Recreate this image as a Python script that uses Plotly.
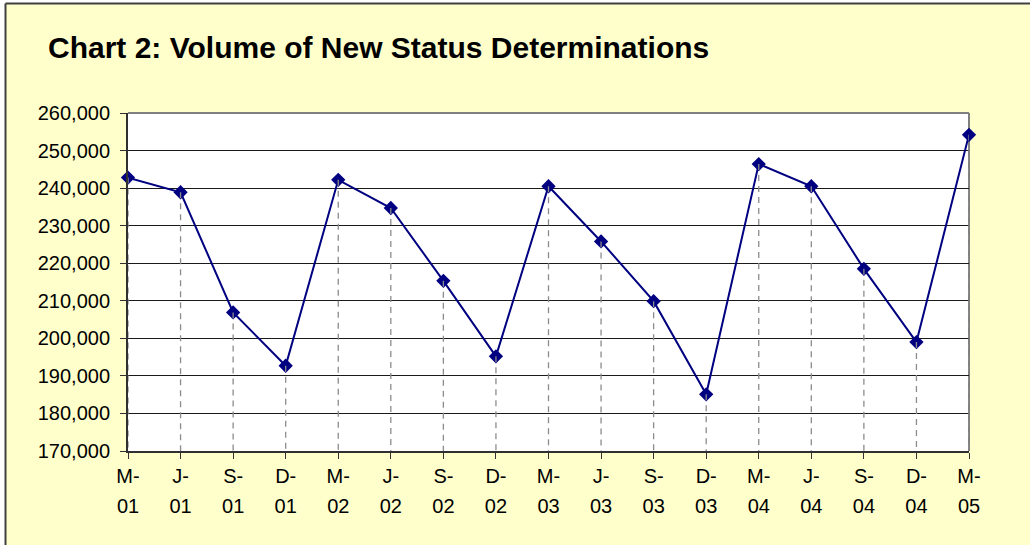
import plotly.graph_objects as go

months = ["M", "J", "S", "D"] * 4 + ["M"]
years = ["01"] * 4 + ["02"] * 4 + ["03"] * 4 + ["04"] * 4 + ["05"]
month_labels = [f"{m}-" for m in months]
volumes = [242800, 238900, 206900, 192700, 242200, 234700, 215300, 195200,
           240500, 225800, 209900, 185100, 246400, 240500, 218500, 199000, 254200]
y_min, y_max, y_step = 170000, 260000, 10000

xs = list(range(len(volumes)))

# drop lines built from the data
drop_x, drop_y = [], []
for x, v in zip(xs, volumes):
    drop_x += [x, x, None]
    drop_y += [v, y_min, None]

FONT = "Arial, 'Liberation Sans', sans-serif"
NAVY = "#000080"
TICKFONT = dict(family=FONT, size=20, color="black")

fig = go.Figure()
fig.add_trace(go.Scatter(x=drop_x, y=drop_y, mode="lines", xaxis="x2",
                         line=dict(color="#8c8c8c", width=1.3, dash="6px,5px"),
                         hoverinfo="skip", showlegend=False, cliponaxis=False))
fig.add_trace(go.Scatter(x=xs, y=volumes, mode="lines+markers",
                         line=dict(color=NAVY, width=2),
                         marker=dict(symbol="diamond", size=11, color=NAVY),
                         showlegend=False, cliponaxis=False))

fig.update_layout(
    width=1030, height=545,
    margin=dict(l=128, r=61, t=113, b=94),
    paper_bgcolor="#FFFFCC",
    plot_bgcolor="#FFFFFF",
    font=dict(family=FONT, color="black"),
    title=dict(text="<b>Chart 2: Volume of New Status Determinations</b>",
               x=48 / 1030, xanchor="left", xref="container",
               y=1 - 47 / 545, yanchor="middle", yref="container",
               font=dict(family=FONT, size=30, color="black")),
    xaxis=dict(range=[0, len(volumes) - 1], tickmode="array", tickvals=xs,
               ticktext=month_labels, showgrid=False, zeroline=False,
               showline=True, linecolor="#303030", linewidth=2,
               ticks="outside", ticklen=6, tickcolor="#303030", tickwidth=1,
               tickfont=TICKFONT),
    xaxis2=dict(range=[0, len(volumes) - 1], overlaying="x", anchor="y", side="bottom",
                tickmode="array", tickvals=xs, ticktext=years,
                showgrid=False, zeroline=False, showline=False, ticks="",
                ticklabelstandoff=41, tickfont=TICKFONT),
    yaxis=dict(range=[y_min, y_max], dtick=y_step, tickformat=",",
               showgrid=True, gridcolor="#1a1a1a", gridwidth=1, zeroline=False,
               showline=True, linecolor="#303030", linewidth=2,
               ticks="outside", ticklen=6, tickcolor="#303030", tickwidth=1,
               ticklabelstandoff=6, tickfont=TICKFONT),
    shapes=[
        # plot area top/right border
        dict(type="line", xref="paper", yref="paper", x0=0, x1=1, y0=1, y1=1,
             line=dict(color="#808080", width=2), layer="below"),
        dict(type="line", xref="paper", yref="paper", x0=1, x1=1, y0=0, y1=1,
             line=dict(color="#808080", width=2), layer="below"),
        # white strips outside the chart frame
        dict(type="rect", xref="paper", yref="paper",
             x0=-0.2, x1=1.2, y0=(451 - 3) / 338, y1=1.5,
             fillcolor="white", line=dict(width=0), layer="below"),
        dict(type="rect", xref="paper", yref="paper",
             x0=-0.2, x1=(5 - 128) / 841, y0=-0.5, y1=1.5,
             fillcolor="white", line=dict(width=0), layer="below"),
        # chart frame
        dict(type="line", xref="paper", yref="paper",
             x0=(5.5 - 128) / 841, x1=1.2, y0=(451 - 3.5) / 338, y1=(451 - 3.5) / 338,
             line=dict(color="#404040", width=2), layer="below"),
        dict(type="line", xref="paper", yref="paper",
             x0=(5.5 - 128) / 841, x1=(5.5 - 128) / 841, y0=-0.5, y1=(451 - 3.5) / 338,
             line=dict(color="#404040", width=2), layer="below"),
    ],
)

fig.write_html("out.html", config={"displayModeBar": False},
               post_script="document.body.style.margin='0';document.body.style.overflow='hidden';")
